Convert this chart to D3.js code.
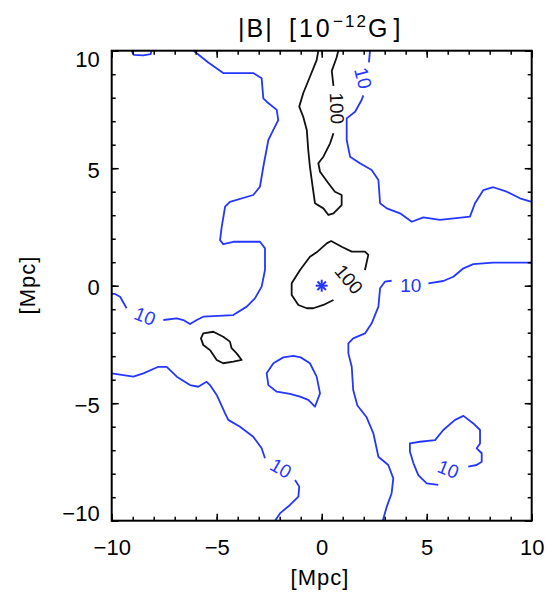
<!DOCTYPE html>
<html>
<head>
<meta charset="utf-8">
<script src="https://cdn.jsdelivr.net/npm/d3@7"></script>
<style>
body { margin: 0; background: #fff; }
svg { display: block; font-family: "Liberation Sans", Arial, Helvetica, sans-serif; }
</style>
</head>
<body>
<svg id="chart" width="548" height="593"></svg>
<script>
// axis setup
const majorTicks = [-10, -5, 0, 5, 10];
const minorTicks = d3.range(-10, 11, 1);
const axisTitle = '[Mpc]';

// |B| = 10 contour pieces (broken where the labels sit)
const blueLines = [
    { closed: false, pts: [[-9.05,10],[-8.95,9.82],[-8.5,9.8],[-8.15,9.85],[-8.1,10]] },
    { closed: false, pts: [[-6.1,10],[-5.4,9.5],[-4.69,9.05],[-3.26,9.05],[-2.86,8.83],[-2.78,7.97],[-2.62,7.83],[-2.14,7.48],[-2.07,7.05],[-2.38,6.49],[-2.54,6.2],[-2.78,5.06],[-2.94,4.21],[-3.26,3.86],[-4.37,3.57],[-4.6,3.36],[-4.76,2.51],[-4.84,1.94],[-4.69,1.77],[-4.21,1.87],[-2.94,1.87],[-2.7,1.59],[-2.7,0.67],[-2.86,-0.04],[-3.18,-0.54],[-3.57,-0.89],[-4.21,-1.25],[-5.64,-1.32],[-5.95,-1.46],[-6.27,-1.63],[-6.59,-1.46],[-6.9,-1.39],[-7.54,-1.46]] },
    { closed: false, pts: [[-9.29,-0.96],[-9.6,-0.47],[-9.84,-0.35],[-10,-0.35]] },
    { closed: false, pts: [[-10,-3.73],[-8.97,-3.87],[-8.49,-3.73],[-7.78,-3.45],[-7.38,-3.45],[-6.9,-3.87],[-6.27,-4.23],[-5.88,-4.3],[-5.48,-4.09],[-5.32,-4.23],[-5.0,-4.65],[-4.6,-5.43],[-4.45,-5.71],[-3.89,-6.0],[-3.26,-6.43],[-2.86,-6.92],[-2.7,-7.34]] },
    { closed: false, pts: [[-1.27,-8.27],[-1.07,-8.55],[-1.11,-8.98],[-1.51,-9.33],[-1.99,-9.69],[-2.22,-10]] },
    { closed: false, pts: [[2.3,10],[2.25,9.5]] },
    { closed: false, pts: [[1.98,8.1],[1.9,7.9],[1.59,7.4],[1.19,7.12],[1.19,6.2],[1.35,5.49],[1.82,5.21],[2.38,4.92],[2.7,4.5],[2.78,3.51],[3.1,3.29],[3.73,3.08],[4.29,2.72],[4.84,2.91],[5.63,2.8],[7.06,2.94],[7.3,3.51],[7.7,4.07],[8.17,4.19],[8.81,4.0],[9.44,3.72],[10,3.57]] },
    { closed: false, pts: [[10,0.98],[8.17,0.98],[7.22,0.92],[6.75,0.74],[6.27,0.38],[5.79,0.2],[5.08,0.1]] },
    { closed: false, pts: [[3.33,0.21],[3.01,0.17],[2.78,-0.11],[2.7,-0.89],[2.38,-1.6],[2.06,-2.03],[1.5,-2.24],[1.27,-2.45],[1.27,-2.88],[1.43,-3.45],[1.5,-4.44],[1.7,-5.1],[2.14,-5.6],[2.46,-6.28],[2.7,-7.28],[3.17,-7.63],[3.41,-8.2],[3.33,-8.83],[3.1,-9.4],[2.94,-9.9],[2.9,-10]] },
    { closed: true, pts: [[-1.35,-2.99],[-1.0,-3.05],[-0.56,-3.3],[-0.24,-3.87],[-0.08,-4.58],[-0.32,-5.15],[-0.64,-4.86],[-1.03,-4.72],[-1.51,-4.6],[-2.14,-4.51],[-2.54,-4.23],[-2.62,-3.73],[-2.3,-3.3],[-1.83,-3.05]] },
    { closed: false, pts: [[6.98,-7.7],[7.38,-7.63],[7.62,-7.49],[7.62,-7.13],[7.38,-6.92],[7.54,-6.71],[7.54,-6.14],[7.22,-5.86],[6.75,-5.54],[6.35,-5.71],[5.79,-6.14],[5.4,-6.57],[4.68,-6.64],[4.2,-6.71],[4.2,-7.06],[4.37,-7.56],[4.6,-8.06],[5.0,-8.41],[5.55,-8.48]] }
];

// |B| = 100 contour pieces
const blackLines = [
    { closed: false, pts: [[-0.16,10],[-0.24,9.6],[-0.56,8.89],[-0.88,8.19],[-1.07,7.62],[-0.88,7.19],[-0.71,6.63],[-0.64,5.77],[-0.56,5.06],[-0.43,4.21],[-0.32,3.51],[0.08,3.29],[0.32,3.01],[0.56,3.08],[0.95,3.43],[0.95,3.86],[0.63,4.0],[0.32,4.36],[-0.08,4.85],[-0.16,5.21],[0.08,5.49],[0.4,6.06],[0.56,6.49]] },
    { closed: false, pts: [[0.56,8.5],[0.48,9.14],[0.71,9.71],[0.79,10]] },
    { closed: false, pts: [[0.56,-0.61],[0.08,-0.82],[-0.4,-0.96],[-0.71,-0.96],[-1.11,-0.82],[-1.43,-0.4],[-1.43,0.1],[-1.03,0.67],[-0.56,1.23],[-0.24,1.42],[0.24,1.8],[0.45,1.9],[0.95,1.66],[1.43,1.45],[2.06,1.45],[2.22,1.31],[2.06,0.67]] },
    { closed: true, pts: [[-5.64,-2.03],[-5.16,-1.96],[-4.69,-2.17],[-4.37,-2.38],[-4.29,-2.66],[-4.05,-2.88],[-3.81,-3.16],[-4.21,-3.23],[-4.69,-3.3],[-5.0,-3.16],[-5.32,-2.74],[-5.64,-2.52],[-5.75,-2.24]] }
];

// contour labels: value, position (Mpc), text angle
const labels = [
    { text: '10', level: 10, x: -8.41, y: -1.29, angle: 22 },
    { text: '10', level: 10, x: -1.94, y: -7.76, angle: 30 },
    { text: '10', level: 10, x: 1.98, y: 8.83, angle: 76 },
    { text: '10', level: 10, x: 4.24, y: 0.03, angle: 0 },
    { text: '10', level: 10, x: 6.03, y: -7.8, angle: 22 },
    { text: '100', level: 100, x: 0.73, y: 7.55, angle: 88 },
    { text: '100', level: 100, x: 1.3, y: 0.28, angle: 50 }
];

// cluster centre
const centre = [[0, 0]];

const blue = '#2536ff';
const svg = d3.select('#chart');
const margin = { left: 111.7, right: 531.7, top: 50.7, bottom: 520.7 };

const x = d3.scaleLinear().domain([-10, 10]).range([margin.left, margin.right]);
const y = d3.scaleLinear().domain([-10, 10]).range([margin.bottom, margin.top]);

const line = d3.line().x(d => x(d[0])).y(d => y(d[1]));
const closedLine = d3.line().x(d => x(d[0])).y(d => y(d[1])).curve(d3.curveLinearClosed);

const plot = svg.append('g');

function drawLines(data, colour) {
    plot.selectAll(null)
        .data(data)
        .enter()
        .append('path')
        .attr('d', d => d.closed ? closedLine(d.pts) : line(d.pts))
        .attr('fill', 'none')
        .attr('stroke', colour)
        .attr('stroke-width', 1.8)
        .attr('stroke-linejoin', 'round');
}

drawLines(blueLines, blue);
drawLines(blackLines, '#111');

plot.selectAll('text.clabel')
    .data(labels)
    .enter()
    .append('text')
    .attr('class', 'clabel')
    .attr('transform', d => `translate(${x(d.x)},${y(d.y)}) rotate(${d.angle})`)
    .attr('text-anchor', 'middle')
    .attr('dy', '0.36em')
    .attr('font-size', 19)
    .attr('fill', d => d.level === 10 ? blue : '#111')
    .text(d => d.text);

// asterisk at the centre
const star = plot.selectAll('g.star')
    .data(centre)
    .enter()
    .append('g')
    .attr('transform', d => `translate(${x(d[0])},${y(d[1])})`);
[0, 45, 90, 135].forEach(a => {
    star.append('line')
        .attr('x1', -6).attr('x2', 6)
        .attr('transform', `rotate(${a})`)
        .attr('stroke', blue)
        .attr('stroke-width', 2);
});

// axes: ticks point inward on all four sides
function addAxis(axis, transform, labelled) {
    const g = svg.append('g').attr('transform', transform);
    g.call(axis.tickValues(minorTicks).tickSize(-4).tickFormat(''));
    g.select('.domain').remove();
    const gm = svg.append('g').attr('transform', transform);
    gm.call(axis.tickValues(majorTicks).tickSize(-7).tickPadding(10)
        .tickFormat(labelled ? d => d3.format('d')(d).replace('-', '\u2212') : ''));
    gm.select('.domain').remove();
    g.selectAll('line').attr('stroke', '#000').attr('stroke-width', 1.5);
    gm.selectAll('line').attr('stroke', '#000').attr('stroke-width', 1.5);
    gm.selectAll('text').attr('font-size', 22).attr('fill', '#000')
        .attr('font-family', '"Liberation Sans", Arial, Helvetica, sans-serif');
    return gm;
}

const bottom = addAxis(d3.axisBottom(x), `translate(0,${margin.bottom})`, true);
bottom.selectAll('text').attr('dy', null).attr('y', 34);
addAxis(d3.axisTop(x), `translate(0,${margin.top})`, false);
const left = addAxis(d3.axisLeft(y), `translate(${margin.left},0)`, true);
// end labels are pulled inside the axis range
left.selectAll('text')
    .attr('x', -12)
    .attr('dy', null)
    .attr('y', d => d === 10 ? 16 : (d === -10 ? 0 : 9));
addAxis(d3.axisRight(y), `translate(${margin.right},0)`, false);

// frame
svg.append('rect')
    .attr('x', margin.left).attr('y', margin.top)
    .attr('width', margin.right - margin.left)
    .attr('height', margin.bottom - margin.top)
    .attr('fill', 'none')
    .attr('stroke', '#000')
    .attr('stroke-width', 2);

// title, spread out like the original
const title = svg.append('text')
    .attr('y', 37)
    .attr('font-size', 25)
    .attr('fill', '#000');
title.append('tspan').attr('x', 238).attr('letter-spacing', 2).text('|B|');
title.append('tspan').attr('x', 289).attr('letter-spacing', 3).text('[10');
title.append('tspan').attr('x', 333).attr('font-size', 17).attr('letter-spacing', 2).attr('dy', -10).text('\u221212');
title.append('tspan').attr('x', 368).attr('dy', 10).attr('letter-spacing', 6).text('G]');

svg.append('text')
    .attr('x', 320).attr('y', 585)
    .attr('text-anchor', 'middle')
    .attr('font-size', 22)
    .attr('letter-spacing', 1)
    .text(axisTitle);

svg.append('text')
    .attr('transform', 'translate(35,285) rotate(-90)')
    .attr('text-anchor', 'middle')
    .attr('font-size', 22)
    .attr('letter-spacing', 1)
    .text(axisTitle);
</script>
</body>
</html>
